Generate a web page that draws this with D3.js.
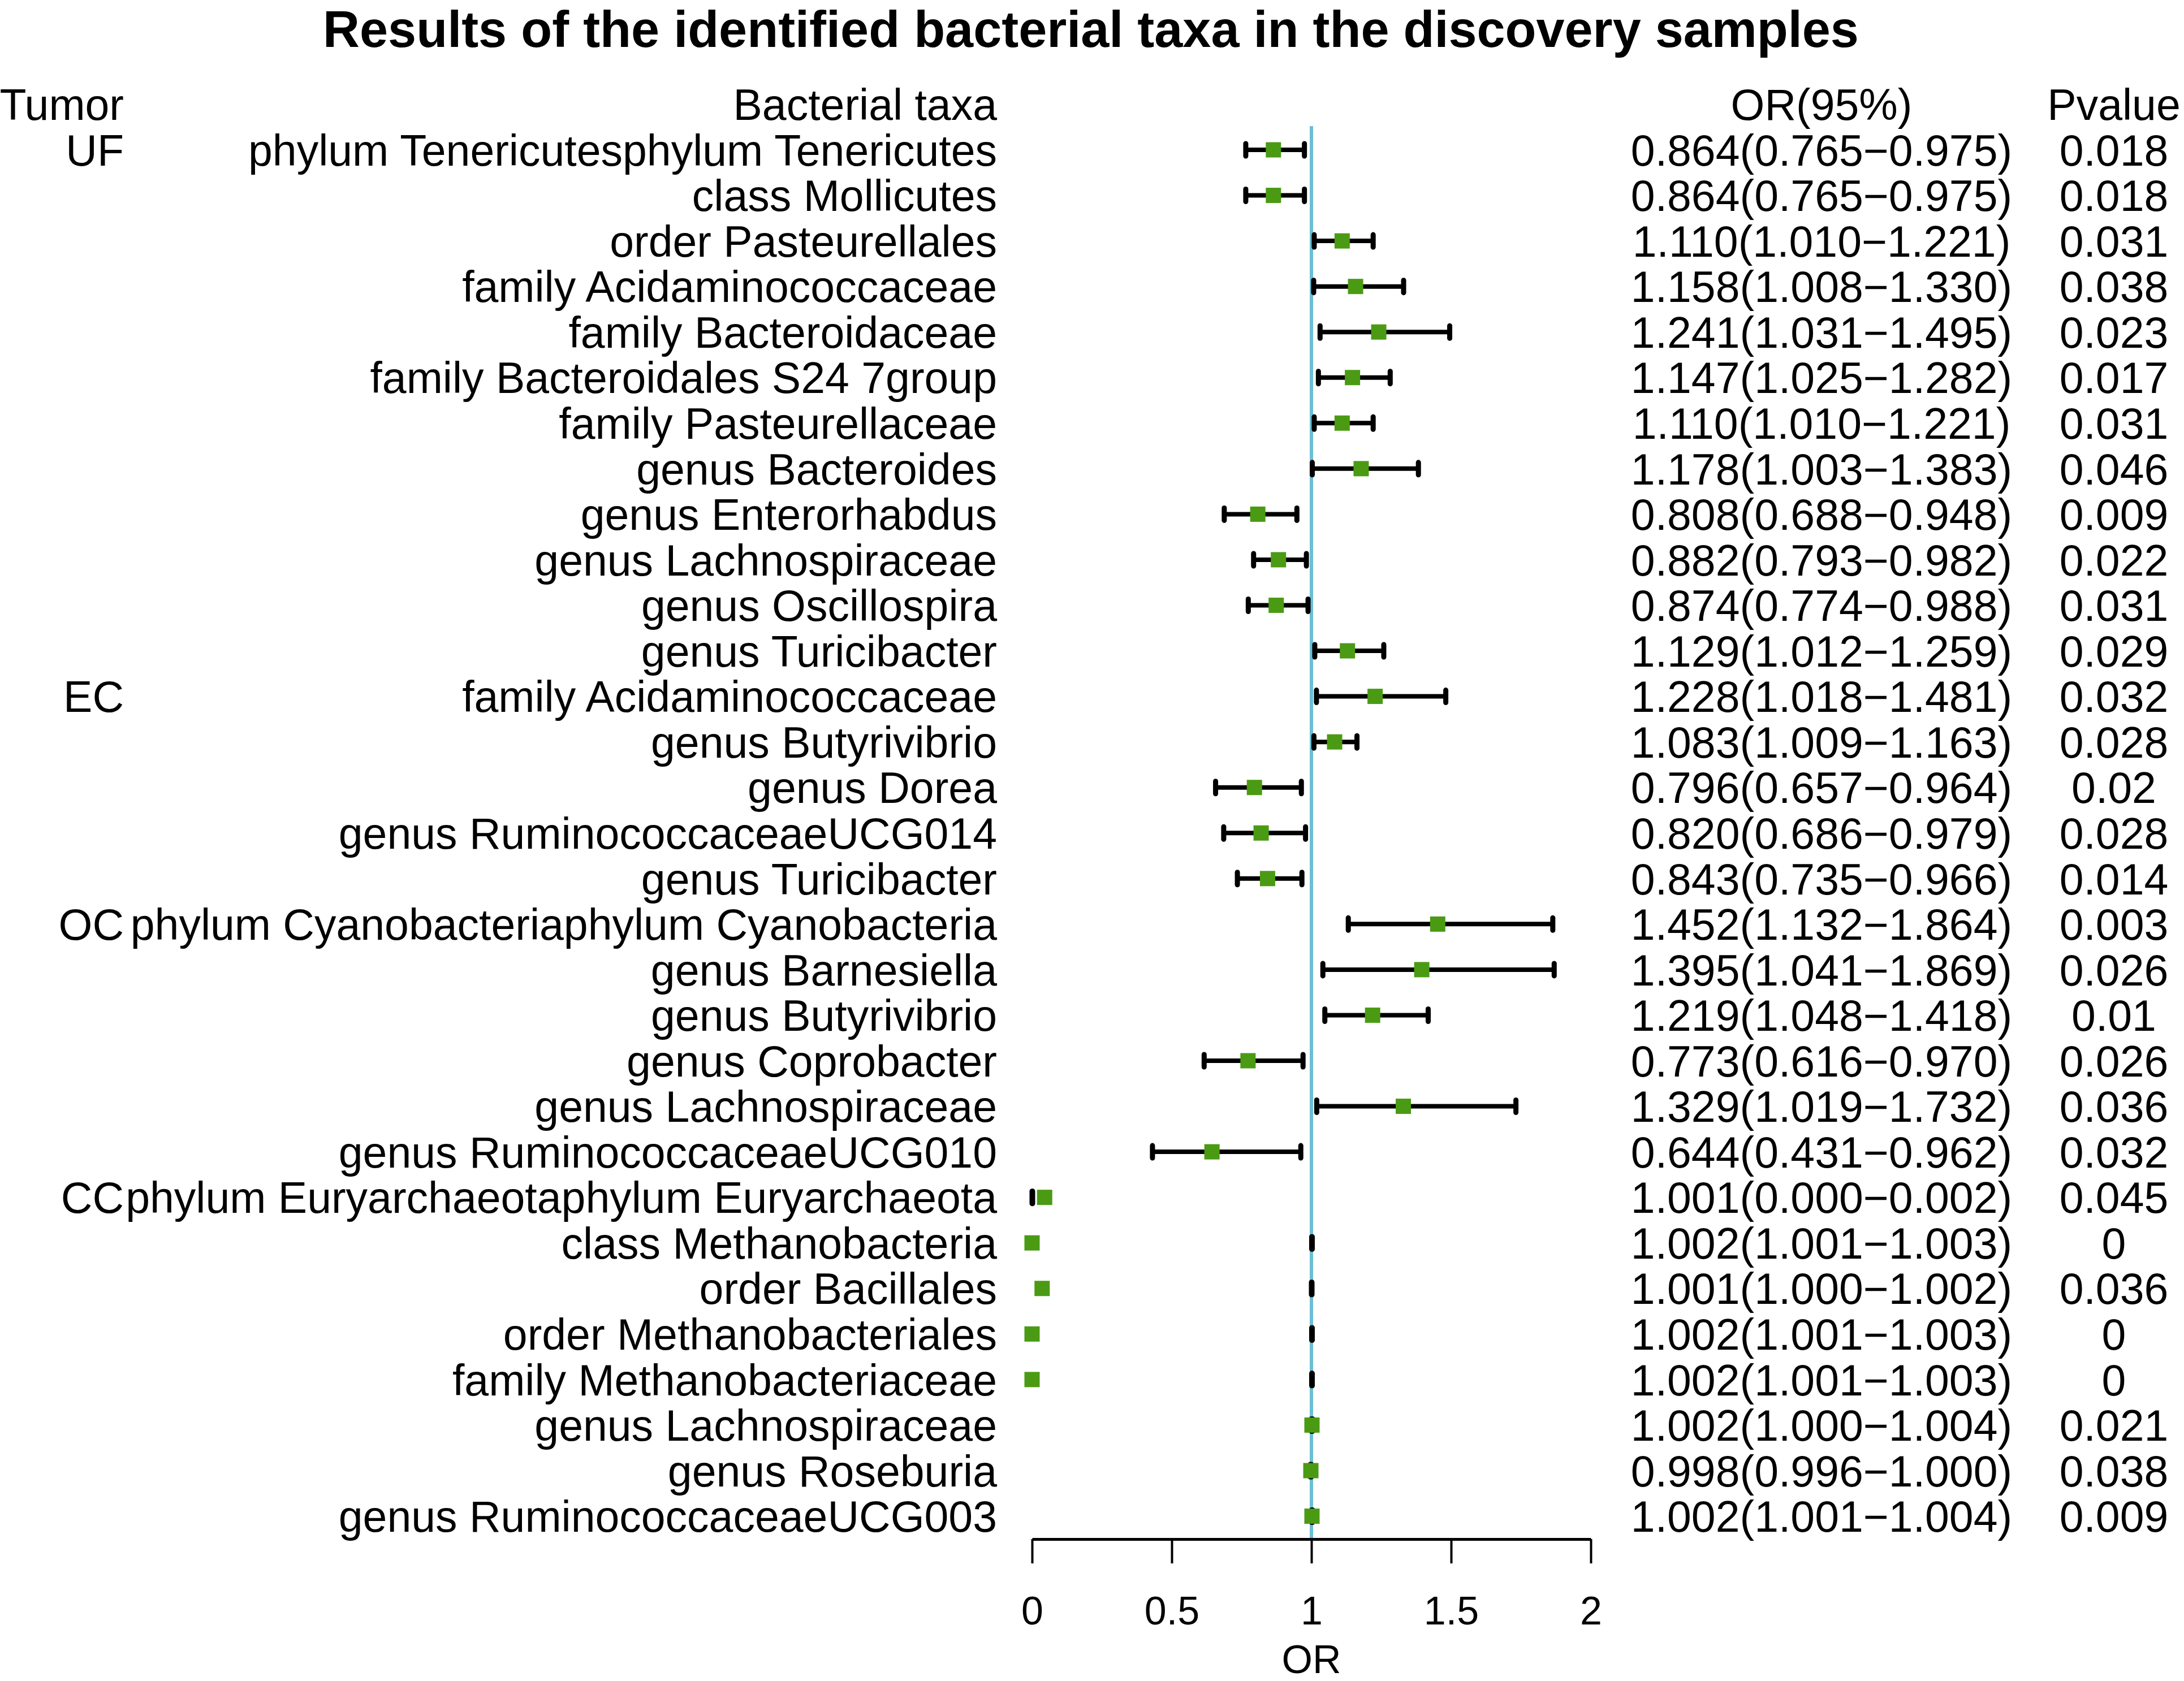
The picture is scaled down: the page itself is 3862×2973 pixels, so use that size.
<!DOCTYPE html>
<html>
<head>
<meta charset="utf-8">
<script src="https://cdn.jsdelivr.net/npm/d3@7"></script>
<style>
  html, body { margin: 0; padding: 0; background: #fff; }
  svg { display: block; }
  text { font-family: "Liberation Sans", Arial, Helvetica, sans-serif; fill: #000; }
</style>
</head>
<body>
<svg id="chart" width="3862" height="2973" viewBox="0 0 3862 2973"></svg>
<script>
// ---------------- DATA ----------------
const title = "Results of the identified bacterial taxa in the discovery samples";
const headers = ["Tumor", "Bacterial taxa", "OR(95%)", "Pvalue"];

const tumor = ["UF","","","","","","","","","","","",
               "EC","","","","",
               "OC","","","","","",
               "CC","","","","","","",""];

const taxa = [
  "phylum Tenericutesphylum Tenericutes",
  "class Mollicutes",
  "order Pasteurellales",
  "family Acidaminococcaceae",
  "family Bacteroidaceae",
  "family Bacteroidales S24 7group",
  "family Pasteurellaceae",
  "genus Bacteroides",
  "genus Enterorhabdus",
  "genus Lachnospiraceae",
  "genus Oscillospira",
  "genus Turicibacter",
  "family Acidaminococcaceae",
  "genus Butyrivibrio",
  "genus Dorea",
  "genus RuminococcaceaeUCG014",
  "genus Turicibacter",
  "phylum Cyanobacteriaphylum Cyanobacteria",
  "genus Barnesiella",
  "genus Butyrivibrio",
  "genus Coprobacter",
  "genus Lachnospiraceae",
  "genus RuminococcaceaeUCG010",
  "phylum Euryarchaeotaphylum Euryarchaeota",
  "class Methanobacteria",
  "order Bacillales",
  "order Methanobacteriales",
  "family Methanobacteriaceae",
  "genus Lachnospiraceae",
  "genus Roseburia",
  "genus RuminococcaceaeUCG003"
];

const orValue = [0.864,0.864,1.110,1.158,1.241,1.147,1.110,1.178,0.808,0.882,0.874,1.129,
                 1.228,1.083,0.796,0.820,0.843,
                 1.452,1.395,1.219,0.773,1.329,0.644,
                 1.001,1.002,1.001,1.002,1.002,1.002,0.998,1.002];
const ciLow   = [0.765,0.765,1.010,1.008,1.031,1.025,1.010,1.003,0.688,0.793,0.774,1.012,
                 1.018,1.009,0.657,0.686,0.735,
                 1.132,1.041,1.048,0.616,1.019,0.431,
                 0.000,1.001,1.000,1.001,1.001,1.000,0.996,1.001];
const ciHigh  = [0.975,0.975,1.221,1.330,1.495,1.282,1.221,1.383,0.948,0.982,0.988,1.259,
                 1.481,1.163,0.964,0.979,0.966,
                 1.864,1.869,1.418,0.970,1.732,0.962,
                 0.002,1.003,1.002,1.003,1.003,1.004,1.000,1.004];
const pValue  = ["0.018","0.018","0.031","0.038","0.023","0.017","0.031","0.046","0.009","0.022","0.031","0.029",
                 "0.032","0.028","0.02","0.028","0.014",
                 "0.003","0.026","0.01","0.026","0.036","0.032",
                 "0.045","0","0.036","0","0","0.021","0.038","0.009"];
// positions of the boxes as they appear in the picture (some CC boxes are drawn away from their OR)
const boxPos  = [0.864,0.864,1.110,1.158,1.241,1.147,1.110,1.178,0.808,0.882,0.874,1.129,
                 1.228,1.083,0.796,0.820,0.843,
                 1.452,1.395,1.219,0.773,1.329,0.644,
                 0.045,0.000,0.036,0.000,0.000,1.002,0.998,1.002];

const xTicks = [0, 0.5, 1, 1.5, 2];
const xLabel = "OR";

// ---------------- DRAW ----------------
const svg = d3.select("#chart");
const n = taxa.length;
const rowGap = 80.55;
const firstRow = 265;

const x = d3.scaleLinear().domain([0, 2]).range([1825, 2813]);
const y = d3.scaleLinear().domain([0, n - 1]).range([firstRow, firstRow + rowGap * (n - 1)]);
const headerY = y(-1);
const axisY = 2722;

const fs = 77;
const colTumor = 219, colTaxa = 1763, colOR = 3221, colP = 3738;

// Title
svg.append("text")
  .attr("x", 1929).attr("y", 83)
  .attr("text-anchor", "middle")
  .attr("font-size", 90).attr("font-weight", "bold")
  .text(title);

// Headers
const hdr = [
  {t: headers[0], x: colTumor, a: "end"},
  {t: headers[1], x: colTaxa, a: "end"},
  {t: headers[2], x: colOR, a: "middle"},
  {t: headers[3], x: colP, a: "middle"}
];
svg.append("g").selectAll("text").data(hdr).join("text")
  .attr("x", d => d.x).attr("y", headerY).attr("dy", "0.36em")
  .attr("text-anchor", d => d.a).attr("font-size", fs)
  .text(d => d.t);

const idx = d3.range(n);

// Tumor column
svg.append("g").selectAll("text").data(idx.filter(i => tumor[i] !== "")).join("text")
  .attr("x", colTumor).attr("y", i => y(i)).attr("dy", "0.36em")
  .attr("text-anchor", "end").attr("font-size", fs)
  .text(i => tumor[i]);

// Taxa column
svg.append("g").selectAll("text").data(idx).join("text")
  .attr("x", colTaxa).attr("y", i => y(i)).attr("dy", "0.36em")
  .attr("text-anchor", "end").attr("font-size", fs)
  .text(i => taxa[i]);

// OR column
const f3 = d3.format(".3f");
svg.append("g").selectAll("text").data(idx).join("text")
  .attr("x", colOR).attr("y", i => y(i)).attr("dy", "0.36em")
  .attr("text-anchor", "middle").attr("font-size", fs)
  .text(i => `${f3(orValue[i])}(${f3(ciLow[i])}\u2212${f3(ciHigh[i])})`);

// P column
svg.append("g").selectAll("text").data(idx).join("text")
  .attr("x", colP).attr("y", i => y(i)).attr("dy", "0.36em")
  .attr("text-anchor", "middle").attr("font-size", fs)
  .text(i => pValue[i]);

// Reference line at OR = 1
svg.append("line")
  .attr("x1", x(1)).attr("x2", x(1))
  .attr("y1", 223).attr("y2", axisY)
  .attr("stroke", "#6BBFD5").attr("stroke-width", 6);

// CI lines
const ci = svg.append("g").attr("stroke", "#000");
ci.selectAll("line.ci").data(idx).join("line").attr("class", "ci")
  .attr("x1", i => x(ciLow[i])).attr("x2", i => x(ciHigh[i]))
  .attr("y1", i => y(i)).attr("y2", i => y(i))
  .attr("stroke-width", 8);
const ends = idx.flatMap(i => [{i, v: ciLow[i]}, {i, v: ciHigh[i]}]);
ci.selectAll("line.end").data(ends).join("line").attr("class", "end")
  .attr("x1", d => x(d.v)).attr("x2", d => x(d.v))
  .attr("y1", d => y(d.i) - 11).attr("y2", d => y(d.i) + 11)
  .attr("stroke-width", 9).attr("stroke-linecap", "round");

// Boxes
const bs = 27;
svg.append("g").selectAll("rect").data(idx).join("rect")
  .attr("x", i => x(boxPos[i]) - bs / 2).attr("y", i => y(i) - bs / 2)
  .attr("width", bs).attr("height", bs)
  .attr("fill", "#4A9B13");

// X axis
const axis = d3.axisBottom(x).tickValues(xTicks).tickSize(43).tickSizeOuter(0)
  .tickPadding(58).tickFormat(d => String(d));
const ag = svg.append("g").attr("transform", `translate(0,${axisY})`).call(axis);
ag.select(".domain").attr("stroke", "#000").attr("stroke-width", 5);
ag.selectAll(".tick line").attr("stroke", "#000").attr("stroke-width", 4);
ag.selectAll(".tick text")
  .attr("font-size", 70)
  .attr("font-family", "\"Liberation Sans\", Arial, sans-serif")
  .attr("fill", "#000");

svg.append("text")
  .attr("x", x(1)).attr("y", 2934).attr("dy", "0.36em")
  .attr("text-anchor", "middle").attr("font-size", 70)
  .text(xLabel);
</script>
</body>
</html>
